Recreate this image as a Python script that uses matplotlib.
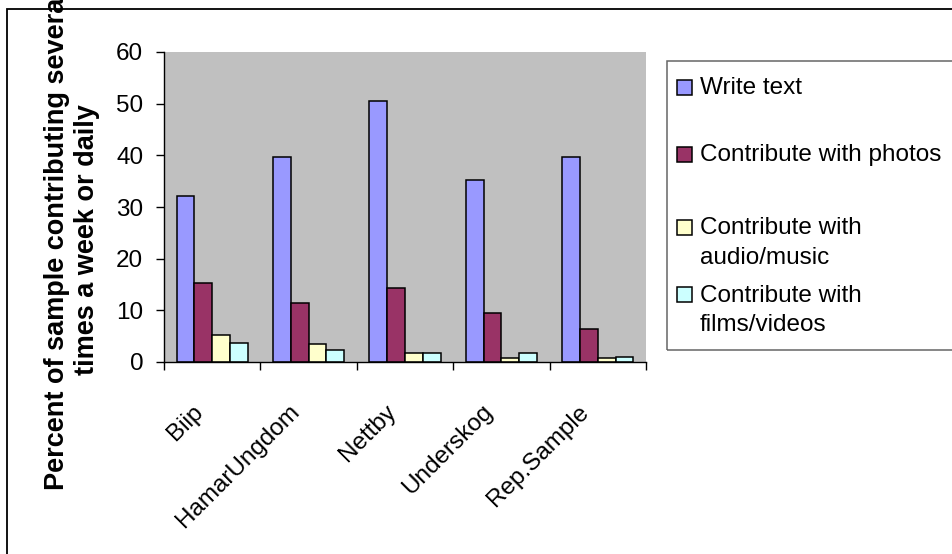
import matplotlib
matplotlib.use("Agg")
import matplotlib.pyplot as plt
from matplotlib.patches import Rectangle
from matplotlib.transforms import ScaledTranslation
import numpy as np

plt.rcParams['font.family'] = ['Liberation Sans', 'DejaVu Sans']

categories = ['Biip', 'HamarUngdom', 'Nettby', 'Underskog', 'Rep.Sample']
series_names = ['Write text', 'Contribute with photos',
                'Contribute with\naudio/music', 'Contribute with\nfilms/videos']
write_text = [32.1, 39.6, 50.5, 35.2, 39.6]
photos = [15.3, 11.5, 14.3, 9.5, 6.4]
audio = [5.2, 3.4, 1.7, 0.7, 0.7]
films = [3.7, 2.4, 1.7, 1.7, 1.0]
colors = ['#9999FF', '#993366', '#FFFFCC', '#CCFFFF']
yticks = [0, 10, 20, 30, 40, 50, 60]

W, H = 953, 554
fs = 17.5
fig = plt.figure(figsize=(W / 100, H / 100), dpi=100)

# outer chart border (right/bottom fall off the picture)
fig.patches.append(Rectangle((7 / W, -0.05), 1.2, 1 - 9 / H + 0.05, transform=fig.transFigure,
                             fill=False, edgecolor='black', linewidth=1.3))

ax = fig.add_axes([164 / W, 1 - 362 / H, (646 - 164) / W, (362 - 52) / H])
ax.set_facecolor('#C0C0C0')

x = np.arange(len(categories))
bw = 0.185
for i, vals in enumerate([write_text, photos, audio, films]):
    ax.bar(x + (i - 1.5) * bw, vals, bw, color=colors[i], edgecolor='black', linewidth=1.1,
           label=series_names[i])

ax.set_xlim(-0.5, len(categories) - 0.5)
ax.set_ylim(0, 60)
ax.set_yticks(yticks)
ax.tick_params(axis='y', direction='out', length=6, width=1, labelsize=fs, pad=9)
for s in ['top', 'right']:
    ax.spines[s].set_visible(False)
ax.spines['left'].set_linewidth(1)
ax.spines['bottom'].set_linewidth(1)

# ticks between categories, labels at centers
ax.set_xticks(np.arange(-0.5, len(categories)), labels=[''] * (len(categories) + 1))
ax.tick_params(axis='x', which='major', direction='out', length=6, width=1)
ax.set_xticks(x, minor=True)
ax.set_xticklabels(categories, minor=True, rotation=45, ha='right', va='top',
                   rotation_mode='anchor', fontsize=fs)
ax.tick_params(axis='x', which='minor', length=0, pad=28)
shift = ScaledTranslation(-20 / 100, 0, fig.dpi_scale_trans)
for lbl in ax.get_xticklabels(minor=True):
    lbl.set_transform(lbl.get_transform() + shift)

fig.text(72 / W, 1 - 240 / H,
         'Percent of sample contributing several\ntimes a week or daily',
         rotation=90, ha='center', va='center', fontsize=19.5, fontweight='bold',
         linespacing=1.2)

# legend
fig.patches.append(Rectangle((667 / W, 1 - 350 / H), 0.5, (350 - 61) / H,
                             transform=fig.transFigure, fill=False,
                             edgecolor='#666666', linewidth=1.1))
leg_y = [87.5, 154.5, 227.5, 294.5]
for i, name in enumerate(series_names):
    fig.patches.append(Rectangle((677 / W, 1 - (leg_y[i] + 7.5) / H), 15 / W, 15 / H,
                                 transform=fig.transFigure, facecolor=colors[i],
                                 edgecolor='black', linewidth=1.1))
    fig.text(700 / W, 1 - (leg_y[i] - 10) / H, name, ha='left', va='top',
             fontsize=fs, linespacing=1.43)

fig.savefig('out.png', dpi=100)
